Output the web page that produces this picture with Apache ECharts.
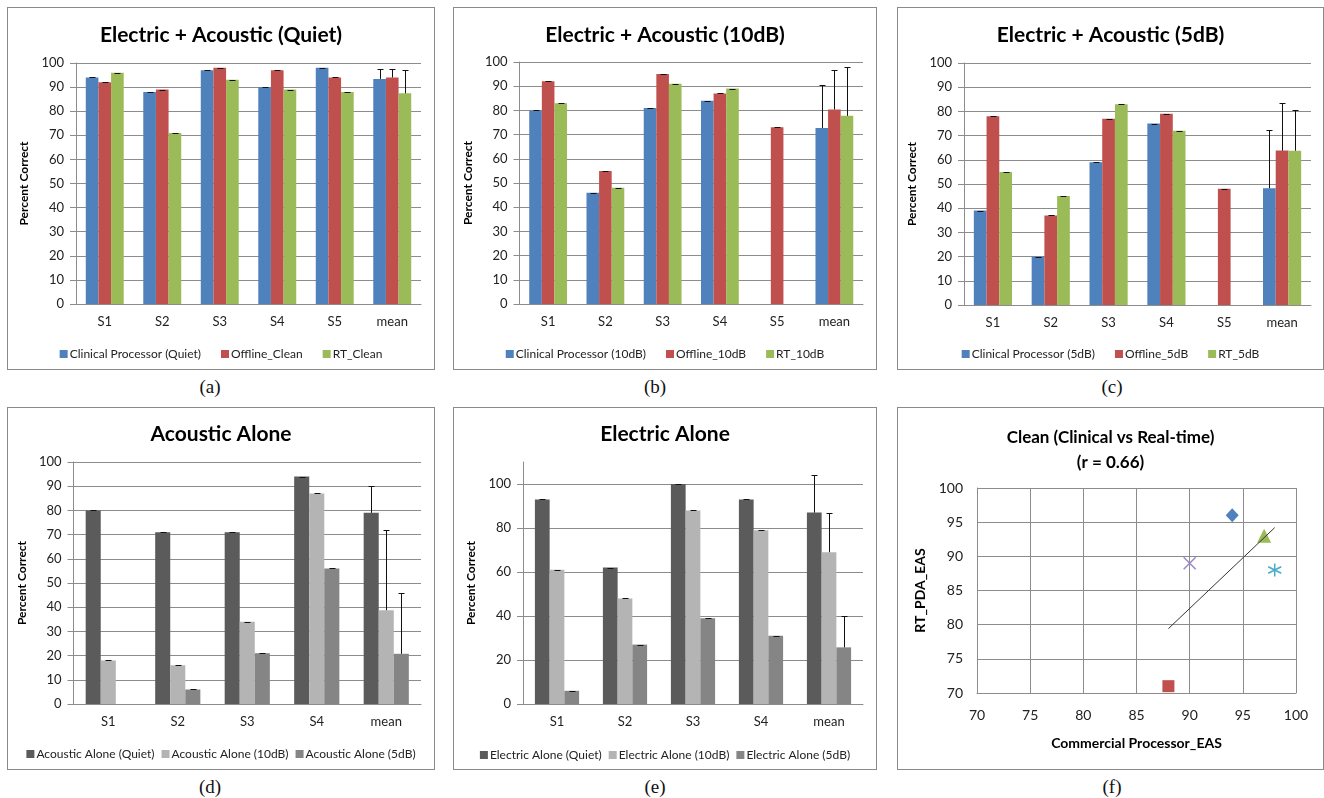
<!DOCTYPE html>
<html>
<head>
<meta charset="utf-8">
<script src="https://cdn.jsdelivr.net/npm/echarts@6/dist/echarts.min.js"></script>
<style>
  body { margin: 0; background: #fff; width: 1324px; height: 798px; position: relative; overflow: hidden; }
  .box { position: absolute; border: 1px solid #8a8a8a; box-sizing: border-box; }
  .cap { position: absolute; width: 60px; margin-left: -30px; text-align: center; font: 19px 'Liberation Serif', serif; line-height: 22px; color: #111; }
</style>
</head>
<body>
<script>
// categories
const subjects5 = ['S1', 'S2', 'S3', 'S4', 'S5', 'mean'];
const subjects4 = ['S1', 'S2', 'S3', 'S4', 'mean'];

// (a) quiet
const quietClinical = [94, 88, 97, 90, 98, 93.4];
const quietOffline = [92, 89, 98, 97, 94, 94];
const quietRT = [96, 71, 93, 89, 88, 87.4];
const quietMeanSd = [4.3, 3.7, 9.7];

// (b) 10 dB
const db10Clinical = [80, 46, 81, 84, '-', 72.75];
const db10Offline = [92, 55, 95, 87, 73, 80.4];
const db10RT = [83, 48, 91, 89, '-', 77.75];
const db10MeanSd = [17.9, 16.5, 20.1];

// (c) 5 dB
const db5Clinical = [39, 20, 59, 75, '-', 48.25];
const db5Offline = [78, 37, 77, 79, 48, 63.8];
const db5RT = [55, 45, 83, 72, '-', 63.75];
const db5MeanSd = [23.9, 19.8, 17.0];

// (d) acoustic alone
const acousticQuiet = [80, 71, 71, 94, 79];
const acoustic10dB = [18, 16, 34, 87, 38.75];
const acoustic5dB = [0, 6, 21, 56, 20.75];
const acousticMeanSd = [10.9, 33.2, 25.1];

// (e) electric alone
const electricQuiet = [93, 62, 100, 93, 87];
const electric10dB = [61, 48, 88, 79, 69];
const electric5dB = [6, 27, 39, 31, 25.75];
const electricMeanSd = [17.0, 17.9, 14.1];

// (f) clinical vs real-time, one point per subject
const scatterX = [94, 88, 97, 90, 98];
const scatterY = [96, 71, 93, 89, 88];

const colorBlue = '#4F81BD', colorRed = '#C0504D', colorGreen = '#9BBB59';
const grayDark = '#5b5b5b', grayLight = '#b4b4b4', grayMid = '#858585';
const gridGray = '#8c8c8c';
const font = 'Lato';

function makeBox(id, box, caption, capX, capY) {
  const el = document.createElement('div');
  el.className = 'box';
  el.id = id;
  el.style.left = box[0] + 'px';
  el.style.top = box[1] + 'px';
  el.style.width = box[2] + 'px';
  el.style.height = box[3] + 'px';
  document.body.appendChild(el);
  const cap = document.createElement('div');
  cap.className = 'cap';
  cap.textContent = caption;
  cap.style.left = capX + 'px';
  cap.style.top = (capY - 11) + 'px';
  document.body.appendChild(cap);
  return echarts.init(el, null, { renderer: 'canvas' });
}

function errorSeries(values, errs, k, gapRatio) {
  return {
    type: 'custom',
    silent: true,
    z: 5,
    data: values.map((v, i) => [i, v, errs[i]]).filter(d => typeof d[1] === 'number' && d[1] > 0),
    renderItem(params, api) {
      const i = api.value(0), v = api.value(1), e = api.value(2);
      const band = api.size([1, 0])[0];
      const barW = band * (1 - gapRatio) / 3;
      const x = Math.round(api.coord([i, v])[0] + (k - 1) * barW) + 0.5;
      const yb = api.coord([i, v])[1];
      const yt = Math.round(api.coord([i, v + e])[1]) + 0.5;
      const style = { stroke: '#111', lineWidth: 1 };
      const kids = [{ type: 'line', shape: { x1: x - 3, y1: yt, x2: x + 3, y2: yt }, style }];
      if (e > 0) kids.push({ type: 'line', shape: { x1: x, y1: yb, x2: x, y2: yt }, style });
      return { type: 'group', children: kids };
    }
  };
}

function barPanel(p) {
  const chart = makeBox(p.id, p.box, p.caption, p.capX, p.capY);
  const ox = p.box[0] + 1, oy = p.box[1] + 1;
  const gap = p.gap;
  const last = p.categories.length - 1;
  const series = [];
  p.series.forEach((s, k) => {
    series.push({
      type: 'bar', name: s.name, data: s.data, barGap: '0%', barCategoryGap: (gap * 100) + '%',
      itemStyle: { color: s.color }
    });
  });
  p.series.forEach((s, k) => {
    const errs = s.data.map((v, i) => (i === last ? p.meanSd[k] : 0));
    series.push(errorSeries(s.data, errs, k, gap));
  });
  chart.setOption({
    animation: false,
    title: {
      text: p.title, left: 'center', top: p.titleY - oy - 13,
      textStyle: { fontFamily: font, fontWeight: 'bold', fontSize: 21, color: '#000' }
    },
    legend: {
      data: p.series.map(s => s.name), left: 'center', top: p.legendY - oy - 7,
      icon: 'rect', itemWidth: 8, itemHeight: 8, itemGap: p.legendGap, selectedMode: false,
      textStyle: { fontFamily: font, fontSize: 12, color: '#222', padding: [0, 0, 0, -3] }
    },
    grid: { left: p.grid[0] - ox, top: p.grid[1] - oy, width: p.grid[2] - p.grid[0], height: p.grid[3] - p.grid[1] },
    xAxis: {
      type: 'category', data: p.categories,
      axisLine: { lineStyle: { color: gridGray } },
      axisTick: { length: 5, lineStyle: { color: gridGray } },
      axisLabel: { margin: 11, fontFamily: font, fontSize: 13, color: '#222' }
    },
    yAxis: {
      type: 'value', min: 0, max: p.yMax, interval: p.yInterval,
      name: 'Percent Correct', nameLocation: 'middle', nameGap: p.nameGap, nameRotate: 90,
      nameTextStyle: { fontFamily: font, fontWeight: 'bold', fontSize: 12, color: '#000' },
      axisLine: { show: true, lineStyle: { color: gridGray } },
      axisTick: { show: true, length: 6, lineStyle: { color: gridGray } },
      axisLabel: { margin: 12, fontFamily: font, fontSize: 13, color: '#222', showMaxLabel: p.yMax === 100 },
      splitLine: { lineStyle: { color: gridGray }, showMaxLine: p.yMax === 100 }
    },
    series
  });
}

barPanel({
  id: 'pa', box: [7, 7, 428, 363], caption: '(a)', capX: 210, capY: 387,
  title: 'Electric + Acoustic (Quiet)', titleY: 33, legendY: 350, legendGap: 20,
  grid: [76, 63, 421, 304], gap: 0.34, yMax: 100, yInterval: 10, nameGap: 44,
  categories: subjects5, meanSd: quietMeanSd,
  series: [
    { name: 'Clinical Processor (Quiet)', data: quietClinical, color: colorBlue },
    { name: 'Offline_Clean', data: quietOffline, color: colorRed },
    { name: 'RT_Clean', data: quietRT, color: colorGreen }
  ]
});

barPanel({
  id: 'pb', box: [453, 7, 424, 363], caption: '(b)', capX: 655, capY: 387,
  title: 'Electric + Acoustic (10dB)', titleY: 33, legendY: 350, legendGap: 20,
  grid: [518, 62, 863, 304], gap: 0.34, yMax: 100, yInterval: 10, nameGap: 40,
  categories: subjects5, meanSd: db10MeanSd,
  series: [
    { name: 'Clinical Processor (10dB)', data: db10Clinical, color: colorBlue },
    { name: 'Offline_10dB', data: db10Offline, color: colorRed },
    { name: 'RT_10dB', data: db10RT, color: colorGreen }
  ]
});

barPanel({
  id: 'pc', box: [897, 7, 427, 363], caption: '(c)', capX: 1112, capY: 387,
  title: 'Electric + Acoustic (5dB)', titleY: 33, legendY: 350, legendGap: 20,
  grid: [964, 63, 1311, 305], gap: 0.34, yMax: 100, yInterval: 10, nameGap: 42,
  categories: subjects5, meanSd: db5MeanSd,
  series: [
    { name: 'Clinical Processor (5dB)', data: db5Clinical, color: colorBlue },
    { name: 'Offline_5dB', data: db5Offline, color: colorRed },
    { name: 'RT_5dB', data: db5RT, color: colorGreen }
  ]
});

barPanel({
  id: 'pd', box: [7, 407, 428, 363], caption: '(d)', capX: 210, capY: 787,
  title: 'Acoustic Alone', titleY: 432, legendY: 750, legendGap: 7,
  grid: [73, 462, 421, 704], gap: 0.35, yMax: 100, yInterval: 10, nameGap: 41,
  categories: subjects4, meanSd: acousticMeanSd,
  series: [
    { name: 'Acoustic Alone (Quiet)', data: acousticQuiet, color: grayDark },
    { name: 'Acoustic Alone (10dB)', data: acoustic10dB, color: grayLight },
    { name: 'Acoustic Alone (5dB)', data: acoustic5dB, color: grayMid }
  ]
});

barPanel({
  id: 'pe', box: [453, 407, 424, 363], caption: '(e)', capX: 655, capY: 787,
  title: 'Electric Alone', titleY: 432, legendY: 751, legendGap: 7,
  grid: [523, 462, 863, 704], gap: 0.35, yMax: 110, yInterval: 20, nameGap: 44,
  categories: subjects4, meanSd: electricMeanSd,
  series: [
    { name: 'Electric Alone (Quiet)', data: electricQuiet, color: grayDark },
    { name: 'Electric Alone (10dB)', data: electric10dB, color: grayLight },
    { name: 'Electric Alone (5dB)', data: electric5dB, color: grayMid }
  ]
});

// (f) scatter with linear trend line
(function () {
  const box = [897, 407, 427, 363];
  const chart = makeBox('pf', box, '(f)', 1112, 787);
  const ox = box[0] + 1, oy = box[1] + 1;
  const n = scatterX.length;
  const mx = scatterX.reduce((a, b) => a + b, 0) / n;
  const my = scatterY.reduce((a, b) => a + b, 0) / n;
  let sxy = 0, sxx = 0;
  for (let i = 0; i < n; i++) { sxy += (scatterX[i] - mx) * (scatterY[i] - my); sxx += (scatterX[i] - mx) ** 2; }
  const slope = sxy / sxx;
  const x0 = Math.min(...scatterX), x1 = Math.max(...scatterX);
  const trend = [[x0, my + slope * (x0 - mx)], [x1, my + slope * (x1 - mx)]];

  const markers = [
    { symbol: 'diamond', size: [13, 14], color: colorBlue },
    { symbol: 'rect', size: 12, color: colorRed },
    { symbol: 'triangle', size: 14, color: colorGreen },
    { symbol: 'path://M0,0L10,10M10,0L0,10', size: 12, color: '#9c89c2', line: true },
    { symbol: 'path://M5,0L5,10M0,2.5L10,7.5M10,2.5L0,7.5', size: 13, color: '#4BACC6', line: true }
  ];
  const series = scatterX.map((x, i) => ({
    type: 'scatter', data: [[x, scatterY[i]]], symbol: markers[i].symbol, symbolSize: markers[i].size,
    itemStyle: markers[i].line
      ? { color: markers[i].color, borderColor: markers[i].color, borderWidth: 1.5, opacity: 1 }
      : { color: markers[i].color, opacity: 1 },
    z: 3
  }));
  series.push({
    type: 'line', data: trend, symbol: 'none', silent: true, z: 4,
    lineStyle: { color: '#333', width: 1 }
  });

  const axisBase = {
    type: 'value', min: 70, max: 100, interval: 5,
    nameLocation: 'middle',
    nameTextStyle: { fontFamily: font, fontWeight: 'bold', fontSize: 14, color: '#000' },
    axisLine: { show: true, lineStyle: { color: gridGray } },
    axisTick: { show: false },
    splitLine: { show: true, lineStyle: { color: gridGray } }
  };
  chart.setOption({
    animation: false,
    title: {
      text: 'Clean (Clinical vs Real-time)\n(r = 0.66)', left: 'center', top: 432 - oy - 12,
      textStyle: { fontFamily: font, fontWeight: 'bold', fontSize: 17, color: '#000', lineHeight: 25 }
    },
    grid: { left: 977 - ox, top: 488 - oy, width: 1296 - 977, height: 693 - 488 },
    xAxis: Object.assign({}, axisBase, {
      name: 'Commercial Processor_EAS', nameGap: 43,
      axisLabel: { margin: 15, fontFamily: font, fontSize: 14, color: '#222' }
    }),
    yAxis: Object.assign({}, axisBase, {
      name: 'RT_PDA_EAS', nameGap: 48,
      axisLabel: { margin: 14, fontFamily: font, fontSize: 14, color: '#222' }
    }),
    series
  });
})();
</script>
</body>
</html>
